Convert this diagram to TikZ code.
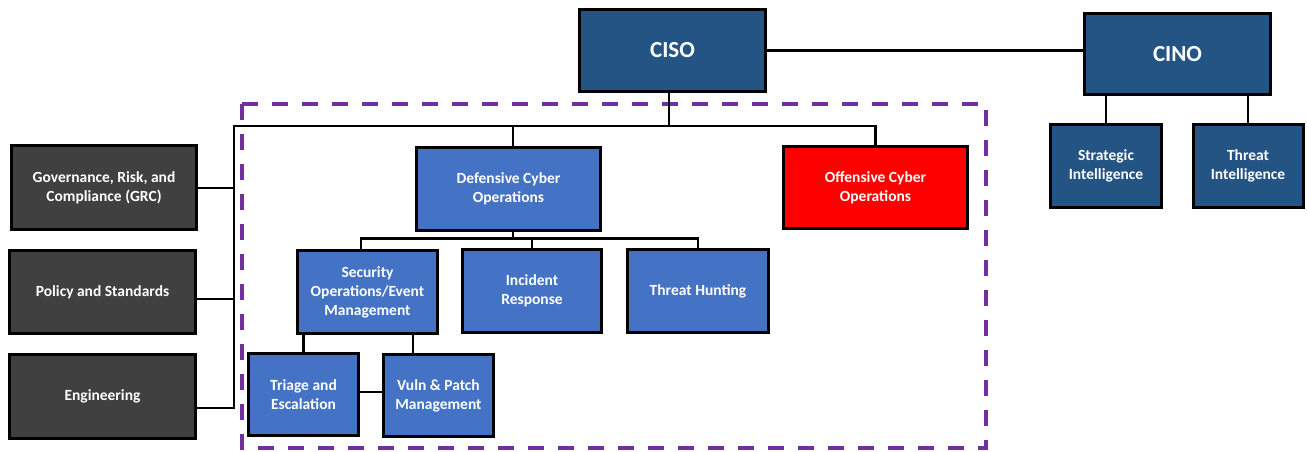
\documentclass[tikz,border=0pt]{standalone}
\usepackage{fontspec}
\setmainfont{Carlito}
\definecolor{darkblue}{HTML}{245483}
\definecolor{midblue}{HTML}{4472C4}
\definecolor{darkgrey}{HTML}{404040}
\definecolor{offred}{HTML}{FF0000}
\definecolor{dashpurple}{HTML}{7030A0}
\tikzset{
  box/.style={draw=black, line width=3pt, text=white, align=center, inner sep=2pt,
    font=\fontsize{15.5}{19}\selectfont\bfseries},
  topbox/.style={box, fill=darkblue, font=\fontsize{23}{27}\selectfont\bfseries},
  dbox/.style={box, fill=darkblue},
  gbox/.style={box, fill=darkgrey},
  bbox/.style={box, fill=midblue},
  rbox/.style={box, fill=offred},
  conn/.style={draw=black, line width=2.5pt},
  region/.style={draw=dashpurple, line width=4pt, dash pattern=on 16pt off 14pt}
}
\begin{document}
\begin{tikzpicture}[x=1pt,y=-1pt]
\useasboundingbox[fill=white] (0,0) rectangle (1307,451);
% dashed region
\draw[region] (242,104) rectangle (986,448);
% top level
\node[topbox, minimum width=186pt, minimum height=82pt] (ciso) at (672.5,50.5) {CISO};
\node[topbox, minimum width=186pt, minimum height=81pt] (cino) at (1177.5,54) {CINO};
\node[dbox, minimum width=111pt, minimum height=83pt] (strat) at (1106,166) {Strategic\\Intelligence};
\node[dbox, minimum width=110pt, minimum height=83pt] (tint) at (1248,166) {Threat\\Intelligence};
% left column
\node[gbox, minimum width=185pt, minimum height=84pt] (grc) at (104,187.5) {Governance, Risk, and\\Compliance (GRC)};
\node[gbox, minimum width=186pt, minimum height=83pt] (pol) at (102.5,292) {Policy and Standards};
\node[gbox, minimum width=186pt, minimum height=84pt] (eng) at (102.5,396.5) {Engineering};
% operations
\node[bbox, minimum width=184pt, minimum height=83pt] (def) at (508.5,189) {Defensive Cyber\\Operations};
\node[rbox, minimum width=184pt, minimum height=82pt] (off) at (875.5,187.5) {Offensive Cyber\\Operations};
\node[bbox, minimum width=140pt, minimum height=83pt] (secops) at (367.5,292) {Security\\Operations/Event\\Management};
\node[bbox, minimum width=139pt, minimum height=83pt] (ir) at (532,291) {Incident\\Response};
\node[bbox, minimum width=141pt, minimum height=83pt] (th) at (698,291) {Threat Hunting};
\node[bbox, minimum width=110pt, minimum height=82pt] (triage) at (303.5,394.5) {Triage and\\Escalation};
\node[bbox, minimum width=110pt, minimum height=82pt] (vuln) at (438.5,395.5) {Vuln \& Patch\\Management};
% junction coordinates
\coordinate (busL) at (234,126);
\coordinate (busC) at (669,126);
\coordinate (sub) at (513,238.5);
\coordinate (subL) at (361,238.5);
\coordinate (tv) at (0,392);
% connectors
\draw[conn] (ciso.east) -- (ciso.east -| cino.west);
\draw[conn] (strat.north) -- (strat.north |- cino.south);
\draw[conn] (tint.north) -- (tint.north |- cino.south);
\draw[conn] (busC |- ciso.south) -- (busC);
\draw[conn] (off.north) -- (off.north |- busC) -- (busL) -- (busL |- 0,408) -- (eng.east |- 0,408);
\draw[conn] (grc.east |- 0,188) -- (busL |- 0,188);
\draw[conn] (pol.east |- 0,299) -- (busL |- 0,299);
\draw[conn] (sub |- busC) -- (sub |- def.north);
\draw[conn] (sub |- def.south) -- (sub);
\draw[conn] (subL |- secops.north) -- (subL) -- (sub -| th.north) -- (th.north);
\draw[conn] (ir.north) -- (ir.north |- sub);
\draw[conn] (triage.north) -- (triage.north |- secops.south);
\draw[conn] (vuln.north -| 413,0) -- (secops.south -| 413,0);
\draw[conn] (triage.east |- tv) -- (vuln.west |- tv);
\end{tikzpicture}
\end{document}
